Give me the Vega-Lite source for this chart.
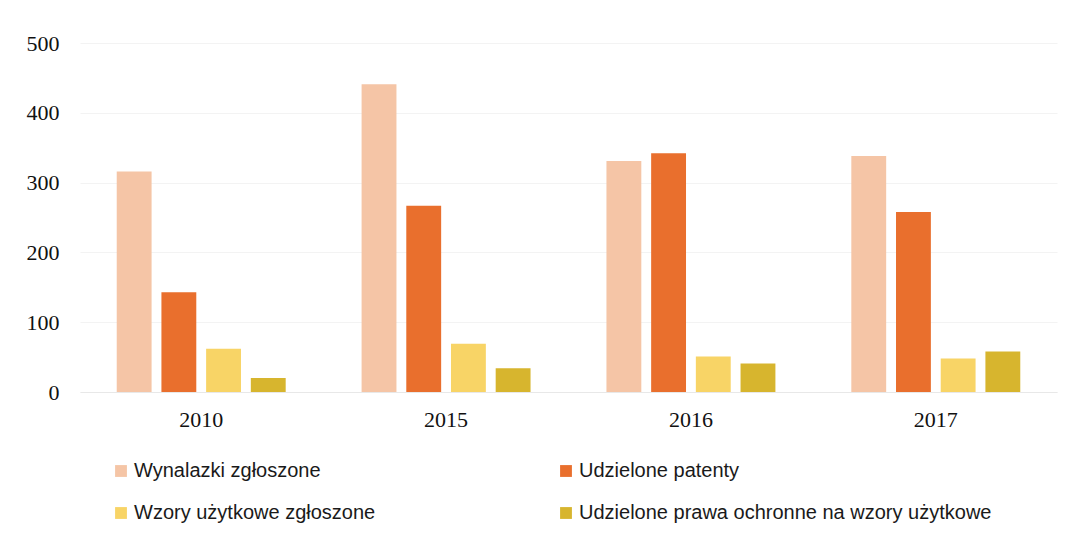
{
  "$schema": "https://vega.github.io/schema/vega-lite/v6.json",
  "autosize": {"type": "none"},
  "width": 977,
  "height": 349,
  "padding": {"left": 80, "top": 43, "right": 16, "bottom": 142},
  "background": "white",
  "data": {
    "values": [
      {"rok": "2010", "kategoria": "Wynalazki zgłoszone", "wartosc": 316},
      {"rok": "2010", "kategoria": "Udzielone patenty", "wartosc": 143},
      {"rok": "2010", "kategoria": "Wzory użytkowe zgłoszone", "wartosc": 62},
      {"rok": "2010", "kategoria": "Udzielone prawa ochronne na wzory użytkowe", "wartosc": 20},
      {"rok": "2015", "kategoria": "Wynalazki zgłoszone", "wartosc": 441},
      {"rok": "2015", "kategoria": "Udzielone patenty", "wartosc": 267},
      {"rok": "2015", "kategoria": "Wzory użytkowe zgłoszone", "wartosc": 69},
      {"rok": "2015", "kategoria": "Udzielone prawa ochronne na wzory użytkowe", "wartosc": 34},
      {"rok": "2016", "kategoria": "Wynalazki zgłoszone", "wartosc": 331},
      {"rok": "2016", "kategoria": "Udzielone patenty", "wartosc": 342},
      {"rok": "2016", "kategoria": "Wzory użytkowe zgłoszone", "wartosc": 51},
      {"rok": "2016", "kategoria": "Udzielone prawa ochronne na wzory użytkowe", "wartosc": 41},
      {"rok": "2017", "kategoria": "Wynalazki zgłoszone", "wartosc": 338},
      {"rok": "2017", "kategoria": "Udzielone patenty", "wartosc": 258},
      {"rok": "2017", "kategoria": "Wzory użytkowe zgłoszone", "wartosc": 48},
      {"rok": "2017", "kategoria": "Udzielone prawa ochronne na wzory użytkowe", "wartosc": 58}
    ]
  },
  "mark": {"type": "bar"},
  "encoding": {
    "x": {
      "field": "rok",
      "type": "nominal",
      "scale": {"paddingInner": 0.31, "paddingOuter": 0.15},
      "axis": {
        "title": null,
        "labelAngle": 0,
        "labelFont": "Liberation Serif",
        "labelFontSize": 22,
        "labelColor": "#111111",
        "labelPadding": 17,
        "ticks": false,
        "domainColor": "#e8e8e8",
        "grid": false
      }
    },
    "xOffset": {
      "field": "kategoria",
      "type": "nominal",
      "sort": ["Wynalazki zgłoszone", "Udzielone patenty", "Wzory użytkowe zgłoszone", "Udzielone prawa ochronne na wzory użytkowe"],
      "scale": {"paddingInner": 0.22, "paddingOuter": 0}
    },
    "y": {
      "field": "wartosc",
      "type": "quantitative",
      "scale": {"domain": [0, 500], "nice": false},
      "axis": {
        "title": null,
        "values": [0, 100, 200, 300, 400, 500],
        "labelFont": "Liberation Serif",
        "labelFontSize": 22,
        "labelColor": "#111111",
        "labelPadding": 21,
        "ticks": false,
        "domain": false,
        "gridColor": "#f3f3f3"
      }
    },
    "color": {
      "field": "kategoria",
      "type": "nominal",
      "sort": ["Wynalazki zgłoszone", "Udzielone patenty", "Wzory użytkowe zgłoszone", "Udzielone prawa ochronne na wzory użytkowe"],
      "scale": {
        "domain": ["Wynalazki zgłoszone", "Udzielone patenty", "Wzory użytkowe zgłoszone", "Udzielone prawa ochronne na wzory użytkowe"],
        "range": ["#F5C5A6", "#E96F2D", "#F8D466", "#D7B52E"]
      },
      "legend": {
        "title": null,
        "orient": "none",
        "legendX": 31,
        "legendY": 418,
        "direction": "horizontal",
        "columns": 2,
        "columnPadding": 180,
        "rowPadding": 22,
        "symbolType": "square",
        "symbolSize": 140,
        "symbolStrokeWidth": 0,
        "symbolOffset": 0,
        "labelOffset": 3,
        "labelFont": "Liberation Sans",
        "labelFontSize": 20,
        "labelColor": "#1a1a1a",
        "labelLimit": 600
      }
    }
  },
  "config": {"view": {"stroke": null}}
}
